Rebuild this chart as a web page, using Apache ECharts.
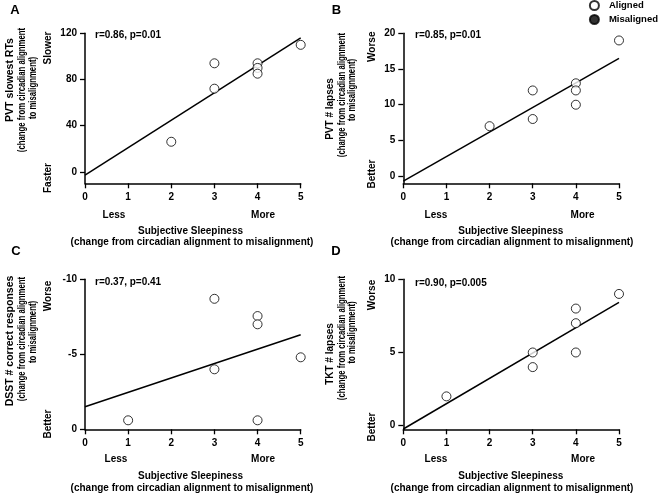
<!DOCTYPE html>
<html>
<head>
<meta charset="utf-8">
<script src="https://cdn.jsdelivr.net/npm/echarts@6/dist/echarts.min.js"></script>
<style>
html,body{margin:0;padding:0;background:#fff;}
#chart{width:660px;height:494px;}
</style>
</head>
<body>
<div id="chart"></div>
<script>
// ---- data ----
const xTicks = [0, 1, 2, 3, 4, 5];
const fitX = [0, 5];

const sleepA = [2, 3, 3, 4, 4, 4, 5];
const pvtSlowest = [26, 94, 72, 94, 90, 85, 110];
const fitA = [-3, 116];
const yTicksA = [0, 40, 80, 120];

const sleepB = [2, 3, 3, 4, 4, 4, 5];
const pvtLapses = [7, 12, 8, 13, 12, 10, 19];
const fitB = [-0.7, 16.5];
const yTicksB = [0, 5, 10, 15, 20];

const sleepC = [1, 3, 3, 4, 4, 4, 5];
const dsstCorrect = [-0.6, -8.7, -4.0, -7.55, -7.0, -0.6, -4.8];
const fitC = [-1.5, -6.3];
const yTicksC = [-10, -5, 0];

const sleepD = [1, 3, 3, 4, 4, 4, 5];
const tktLapses = [2, 5, 4, 8, 7, 5, 9];
const fitD = [-0.23, 8.43];
const yTicksD = [0, 5, 10];

const statsText = ['r=0.86, p=0.01', 'r=0.85, p=0.01', 'r=0.37, p=0.41', 'r=0.90, p=0.005'];

// ---- build ----
const FONT = '"Liberation Sans", Arial, sans-serif';
const pair = (xs, ys) => xs.map((x, i) => [x, ys[i]]);

const grids = [
  {left: 85, top: 33.3, width: 215.7, height: 150},
  {left: 403.3, top: 33.3, width: 215.7, height: 150},
  {left: 85, top: 279.3, width: 215.7, height: 150},
  {left: 403.3, top: 279.3, width: 215.7, height: 150}
];

const axisLine = {show: true, onZero: false, lineStyle: {color: '#000', width: 1.5}};
const axisTickBase = {show: true, inside: false, length: 5, lineStyle: {color: '#000', width: 1.3}};
const labelBase = {color: '#000', fontSize: 10, fontWeight: 'bold', fontFamily: FONT};

const xAxes = grids.map((g, i) => ({
  type: 'value', gridIndex: i, min: 0, max: 5, position: 'bottom',
  axisLine: axisLine,
  axisTick: Object.assign({}, axisTickBase, {customValues: xTicks}),
  axisLabel: Object.assign({}, labelBase, {margin: 9, customValues: xTicks}),
  splitLine: {show: false}
}));

const ySpecs = [
  {min: -10, max: 120, ticks: yTicksA, inverse: false},
  {min: -1, max: 20, ticks: yTicksB, inverse: false},
  {min: -10, max: 0, ticks: yTicksC, inverse: true},
  {min: -0.25, max: 10, ticks: yTicksD, inverse: false}
];
const yAxes = ySpecs.map((s, i) => ({
  type: 'value', gridIndex: i, min: s.min, max: s.max, inverse: s.inverse,
  axisLine: axisLine,
  axisTick: Object.assign({}, axisTickBase, {customValues: s.ticks}),
  axisLabel: Object.assign({}, labelBase, {margin: 8, customValues: s.ticks}),
  splitLine: {show: false}
}));

const panels = [
  [sleepA, pvtSlowest, fitA],
  [sleepB, pvtLapses, fitB],
  [sleepC, dsstCorrect, fitC],
  [sleepD, tktLapses, fitD]
];

const series = [];
panels.forEach((p, i) => {
  series.push({
    type: 'line', xAxisIndex: i, yAxisIndex: i, data: pair(fitX, p[2]),
    symbol: 'none', silent: true, z: 2,
    lineStyle: {color: '#000', width: 1.5}
  });
  series.push({
    name: 'Aligned', type: 'scatter', xAxisIndex: i, yAxisIndex: i,
    data: pair(p[0], p[1]), symbol: 'circle', symbolSize: 9, z: 3,
    itemStyle: {color: '#fff', borderColor: '#000', borderWidth: 1}
  });
});
series.push({
  name: 'Misaligned', type: 'scatter', xAxisIndex: 0, yAxisIndex: 0,
  data: [], symbol: 'circle', symbolSize: 9,
  itemStyle: {color: '#000', borderColor: '#000', borderWidth: 1}
});

function txt(text, x, y, opts) {
  opts = opts || {};
  const size = opts.size || 10;
  const el = {
    type: 'text', x: x, y: y,
    style: {
      text: text, fill: '#000',
      font: 'bold ' + size + 'px ' + FONT,
      align: opts.align || 'center', textAlign: opts.align || 'center',
      verticalAlign: 'middle', textVerticalAlign: 'middle'
    }
  };
  if (opts.rot) el.rotation = Math.PI / 2;
  if (opts.sx) el.scaleX = opts.sx;
  return el;
}

const L2 = '(change from circadian alignment';
const L3 = 'to misalignment)';
const SX = 0.74;
const SZ = 10.5;
const graphics = [
  // panel letters
  txt('A', 15, 10.5, {size: 13}),
  txt('B', 336.5, 10.5, {size: 13}),
  txt('C', 16, 251.5, {size: 13}),
  txt('D', 336, 251.5, {size: 13}),
  // stats
  txt(statsText[0], 95, 35.7, {align: 'left'}),
  txt(statsText[1], 415, 35.7, {align: 'left'}),
  txt(statsText[2], 95, 282.3, {align: 'left'}),
  txt(statsText[3], 415, 283.3, {align: 'left'}),
  // y titles A
  txt('PVT slowest RTs', 10, 80, {rot: 1, size: 10.5}),
  txt(L2, 21.7, 90, {rot: 1, sx: SX, size: SZ}),
  txt(L3, 32.7, 88, {rot: 1, sx: SX, size: SZ}),
  txt('Slower', 48.3, 48, {rot: 1}),
  txt('Faster', 48.3, 178, {rot: 1}),
  // y titles B
  txt('PVT # lapses', 330, 109, {rot: 1}),
  txt(L2, 341.7, 95, {rot: 1, sx: SX, size: SZ}),
  txt(L3, 351.7, 90, {rot: 1, sx: SX, size: SZ}),
  txt('Worse', 372.7, 46.7, {rot: 1}),
  txt('Better', 372.7, 174, {rot: 1}),
  // y titles C
  txt('DSST # correct responses', 10, 341, {rot: 1, size: 10.5}),
  txt(L2, 21.7, 339, {rot: 1, sx: SX, size: SZ}),
  txt(L3, 32.7, 332, {rot: 1, sx: SX, size: SZ}),
  txt('Worse', 48.3, 296, {rot: 1}),
  txt('Better', 48.3, 424, {rot: 1}),
  // y titles D
  txt('TKT # lapses', 330, 354, {rot: 1}),
  txt(L2, 341.7, 338, {rot: 1, sx: SX, size: SZ}),
  txt(L3, 351.7, 332.5, {rot: 1, sx: SX, size: SZ}),
  txt('Worse', 372.7, 295, {rot: 1}),
  txt('Better', 372.7, 427, {rot: 1}),
  // x titles
  txt('Less', 114, 215.7), txt('More', 263, 215.7),
  txt('Less', 436, 215.7), txt('More', 582.5, 215.7),
  txt('Less', 116, 459), txt('More', 263, 459),
  txt('Less', 436, 459), txt('More', 583, 459),
  txt('Subjective Sleepiness', 190.5, 231.5),
  txt('(change from circadian alignment to misalignment)', 192, 242.5),
  txt('Subjective Sleepiness', 510.8, 231.5),
  txt('(change from circadian alignment to misalignment)', 512, 242.5),
  txt('Subjective Sleepiness', 190.5, 476),
  txt('(change from circadian alignment to misalignment)', 192, 488),
  txt('Subjective Sleepiness', 510.8, 476),
  txt('(change from circadian alignment to misalignment)', 512, 488)
];

const chart = echarts.init(document.getElementById('chart'), null, {renderer: 'canvas'});
chart.setOption({
  animation: false,
  backgroundColor: '#fff',
  grid: grids,
  xAxis: xAxes,
  yAxis: yAxes,
  legend: {
    data: [{name: 'Aligned', icon: 'circle'}, {name: 'Misaligned', icon: 'circle'}],
    orient: 'vertical', right: 2, top: 0, padding: 0,
    itemWidth: 19, itemHeight: 9, itemGap: 3,
    selectedMode: false,
    textStyle: {color: '#000', fontSize: 9.5, fontWeight: 'bold', fontFamily: FONT}
  },
  series: series,
  graphic: graphics
});
</script>
</body>
</html>
